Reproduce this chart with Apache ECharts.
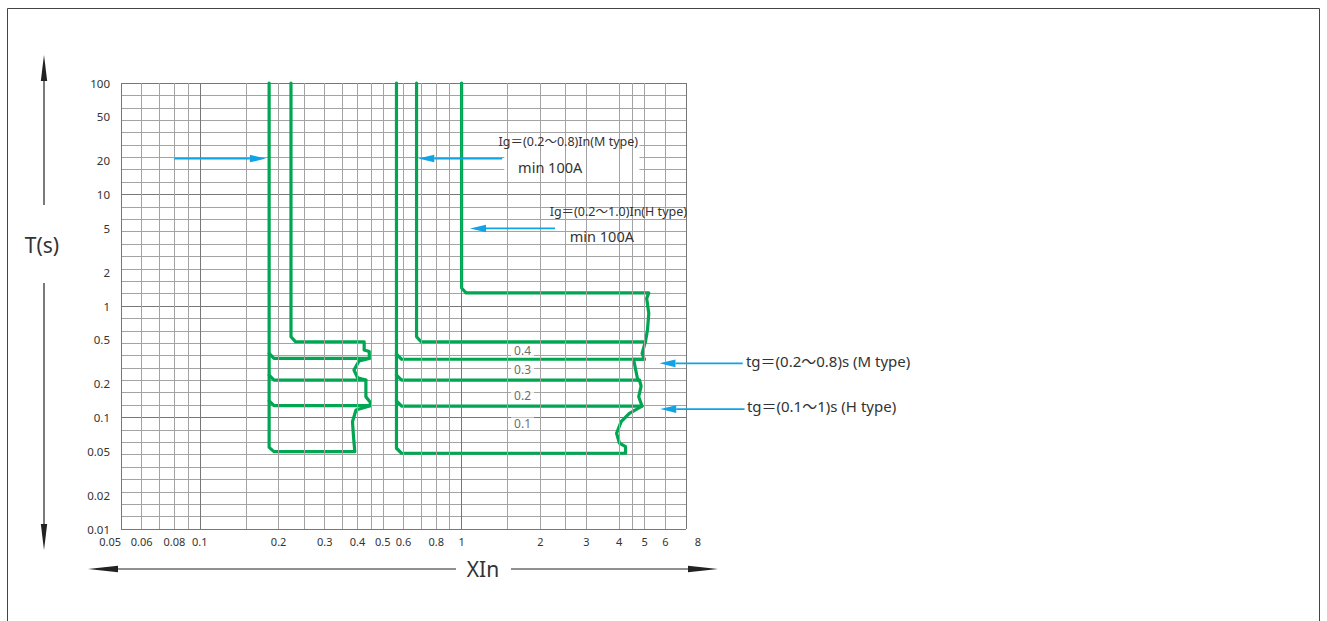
<!DOCTYPE html>
<html><head><meta charset="utf-8">
<script src="https://cdn.jsdelivr.net/npm/echarts@6/dist/echarts.min.js"></script>
<style>html,body{margin:0;padding:0;background:#fff}#c{width:1327px;height:621px}</style>
</head><body><div id="c"></div>
<script>
// ---- tick labels ----
const xTickLabels = [0.05,0.06,0.08,0.1,0.2,0.3,0.4,0.5,0.6,0.8,1,2,3,4,5,6,8];
const yTickLabels = [0.01,0.02,0.05,0.1,0.2,0.5,1,2,5,10,20,50,100];
// vertical grid lines (x values)
const xGridValues = [0.05,0.06,0.07,0.08,0.09,0.1,0.15,0.2,0.25,0.3,0.35,0.4,0.45,0.5,0.6,0.7,0.8,0.9,1,1.5,2,2.5,3,4,4.5,5,6,7.2];
const xMin = 0.05, xMax = 7.2, xLabelMax = 8, yMin = 0.01, yMax = 100;

// ---- characteristic curves (x = multiple of In, y = seconds) ----
const leftOutline = [[0.223,100],[0.223,0.53],[0.232,0.478],[0.4245,0.478],[0.4245,0.403],[0.444,0.39],[0.444,0.339],[0.406,0.321],[0.388,0.2667],[0.4004,0.2275],[0.431,0.2168],[0.431,0.1536],[0.448,0.1368],[0.448,0.1276],[0.395,0.1167],[0.383,0.0917],[0.387,0.0651],[0.391,0.0494],[0.192,0.0494],[0.184,0.054],[0.184,100]];
const leftBand04 = [[0.184,0.375],[0.192,0.339],[0.444,0.339]];
const leftBand03 = [[0.184,0.24],[0.192,0.2168],[0.431,0.2168]];
const leftBand02 = [[0.184,0.141],[0.192,0.1276],[0.448,0.1276]];
const rightOutline = [[1.0,100],[1.0,1.45],[1.04,1.313],[5.19,1.313],[5.095,1.17],[5.19,0.859],[5.13,0.608],[5.04,0.478],[4.995,0.447],[4.894,0.376],[4.995,0.333],[4.54,0.333],[4.71,0.2168],[4.78,0.2168],[4.85,0.1915],[4.75,0.1536],[4.89,0.1266],[4.375,0.109],[4.07,0.0917],[3.91,0.0722],[4.01,0.0588],[4.23,0.0547],[4.23,0.0478],[0.59,0.0478],[0.564,0.053],[0.564,100]];
const rightMType = [[0.673,100],[0.673,0.53],[0.70,0.478],[5.04,0.478]];
const rightBand04 = [[0.564,0.37],[0.59,0.333],[4.995,0.333]];
const rightBand03 = [[0.564,0.24],[0.59,0.2168],[4.78,0.2168]];
const rightBand02 = [[0.564,0.141],[0.59,0.1266],[4.89,0.1266]];
const curves = [leftOutline,leftBand04,leftBand03,leftBand02,rightOutline,rightMType,rightBand04,rightBand03,rightBand02];

// band labels
const bandLabels = ['0.4','0.3','0.2','0.1'];
const bandLabelX = [1.71,1.71,1.71,1.71];
const bandLabelY = [0.397,0.270,0.1567,0.0887];

// annotations (data coordinates)
const arrowFrom = [[0.0798,21],[1.43,21],[2.275,4.96],[11.86,0.306],[12.05,0.119]];
const arrowTo   = [[0.1788,21],[0.683,21],[1.077,4.96],[5.70,0.306],[5.74,0.119]];
const noteTexts = ['Ig＝(0.2～0.8)In(M type)','min 100A','Ig＝(0.2～1.0)In(H type)','min 100A','tg＝(0.2～0.8)s (M type)','tg＝(0.1～1)s (H type)'];
const noteAt    = [[2.557,29.6],[2.18,17.68],[3.97,6.98],[3.435,4.23],[12.2,0.321],[12.3,0.1265]];
const noteAlign = ['center','center','center','center','left','left'];
const noteSize  = [12.5,14.5,12.5,14.5,15,15];
const noteBoxCorners = [[1.456,34.0],[4.78,15.2]];

const GREEN = '#00a651', BLUE = '#12a3e6', GRID = '#a3a3a3', GRID_MAJOR = '#777';
const FONT = '"Noto Sans", "Noto Sans CJK SC", sans-serif';

const chart = echarts.init(document.getElementById('c'), null, {renderer: 'svg'});
const G = {left: 121, top: 83, width: 565, height: 446};
const labelWidth = G.width * Math.log10(xLabelMax / xMin) / Math.log10(xMax / xMin);

const series = curves.map(c => ({
  type: 'line', xAxisIndex: 0, yAxisIndex: 0, data: c, showSymbol: false, symbol: 'none',
  lineStyle: {color: GREEN, width: 3.2, join: 'round', cap: 'round'}, silent: true, z: 3, clip: false
}));
series.push({
  type: 'line', xAxisIndex: 0, yAxisIndex: 0, data: [], silent: true, z: 1,
  markLine: {
    silent: true, symbol: ['none','none'], label: {show: false}, animation: false,
    lineStyle: {color: GRID, width: 1, type: 'solid'},
    data: xGridValues.map(v => ({xAxis: v, lineStyle: {color: (v === 0.05 || v === 0.1 || v === 1 || v === 7.2) ? GRID_MAJOR : GRID, width: 1, type: 'solid'}}))
  }
});
series.push({
  type: 'scatter', xAxisIndex: 0, yAxisIndex: 0, symbolSize: 1, itemStyle: {color: 'rgba(0,0,0,0)'}, z: 4, silent: true,
  data: bandLabels.map((t, i) => ({value: [bandLabelX[i], bandLabelY[i]], name: t})),
  label: {show: true, position: 'inside', formatter: p => p.name, color: '#444', fontSize: 12, fontFamily: FONT,
          backgroundColor: '#fff', padding: [0, 3, 0, 3]}
});

chart.setOption({
  animation: false,
  backgroundColor: '#fff',
  grid: [
    Object.assign({}, G),
    {left: G.left, top: G.top, width: labelWidth, height: G.height}
  ],
  xAxis: [
    {type: 'log', gridIndex: 0, min: xMin, max: xMax, logBase: 10,
     axisLine: {show: false}, axisTick: {show: false}, axisLabel: {show: false}, splitLine: {show: false}, minorSplitLine: {show: false}},
    {type: 'log', gridIndex: 1, min: xMin, max: xLabelMax, logBase: 10,
     axisLine: {show: false}, axisTick: {show: false}, splitLine: {show: false},
     axisLabel: {show: true, customValues: xTickLabels, showMinLabel: true, showMaxLabel: true, hideOverlap: false,
                 alignMinLabel: 'right',
                 margin: 7, color: '#333', fontSize: 11, fontFamily: FONT,
                 formatter: v => String(+(+v).toPrecision(3))}}
  ],
  yAxis: [
    {type: 'log', gridIndex: 0, min: yMin, max: yMax, logBase: 10,
     axisLine: {show: false}, axisTick: {show: false}, splitLine: {show: false},
     axisLabel: {show: true, customValues: yTickLabels, showMinLabel: true, showMaxLabel: true,
                 margin: 11, color: '#333', fontSize: 11.5, fontFamily: FONT,
                 formatter: v => String(+(+v).toPrecision(3))}},
    {type: 'value', gridIndex: 0, min: 0, max: 36, interval: 1,
     axisLine: {show: false}, axisTick: {show: false}, axisLabel: {show: false},
     splitLine: {show: true, lineStyle: {width: 1, color: [GRID_MAJOR, GRID, GRID, GRID, GRID, GRID, GRID, GRID, GRID]}}},
    {type: 'value', gridIndex: 1, show: false}
  ],
  series: series
});

// ---- annotations via the chart's own scales ----
function px(p) { return chart.convertToPixel({xAxisIndex: 0, yAxisIndex: 0}, p); }
function arrow(a, b, color, lw, hl, hw, z) {
  const dx = b[0] - a[0], dy = b[1] - a[1], L = Math.hypot(dx, dy), ux = dx / L, uy = dy / L;
  const bx = b[0] - ux * hl, by = b[1] - uy * hl;
  return [
    {type: 'line', z: z, silent: true, shape: {x1: a[0], y1: a[1], x2: bx, y2: by}, style: {stroke: color, lineWidth: lw}},
    {type: 'polygon', z: z, silent: true, shape: {points: [[b[0], b[1]], [bx - uy * hw, by + ux * hw], [bx + uy * hw, by - ux * hw]]}, style: {fill: color}}
  ];
}
const els = [];
// outer frame
els.push({type: 'rect', z: 0, silent: true, shape: {x: 7.5, y: 8.5, width: 1312, height: 700}, style: {fill: null, stroke: '#444', lineWidth: 1}});
// white box behind M-type note
const c1 = px(noteBoxCorners[0]), c2 = px(noteBoxCorners[1]);
els.push({type: 'rect', z: 1, silent: true, shape: {x: c1[0], y: c1[1], width: c2[0] - c1[0], height: c2[1] - c1[1]}, style: {fill: '#fff'}});
arrowFrom.forEach((f, i) => { els.push(...arrow(px(f), px(arrowTo[i]), BLUE, 1.8, 16, 3.8, 20)); });
noteTexts.forEach((t, i) => {
  const p = px(noteAt[i]);
  els.push({type: 'text', z: 20, silent: true, x: p[0], y: p[1],
    style: {text: t, fill: '#333', fontSize: noteSize[i], fontFamily: FONT, align: noteAlign[i], verticalAlign: 'middle'}});
});
// axis titles with arrows
els.push(...arrow([44, 205], [44, 55], '#222', 1.2, 26, 3.2, 20));
els.push(...arrow([44, 283], [44, 550], '#222', 1.2, 26, 3.2, 20));
els.push({type: 'text', z: 20, silent: true, x: 42, y: 245, style: {text: 'T(s)', fill: '#333', fontSize: 21, fontFamily: FONT, align: 'center', verticalAlign: 'middle'}});
els.push(...arrow([456, 569], [88, 569], '#222', 1.2, 30, 3.2, 20));
els.push(...arrow([511, 569], [718, 569], '#222', 1.2, 30, 3.2, 20));
els.push({type: 'text', z: 20, silent: true, x: 483, y: 569, style: {text: 'XIn', fill: '#333', fontSize: 21, fontFamily: FONT, align: 'center', verticalAlign: 'middle'}});
chart.setOption({graphic: {elements: els}});
</script></body></html>
